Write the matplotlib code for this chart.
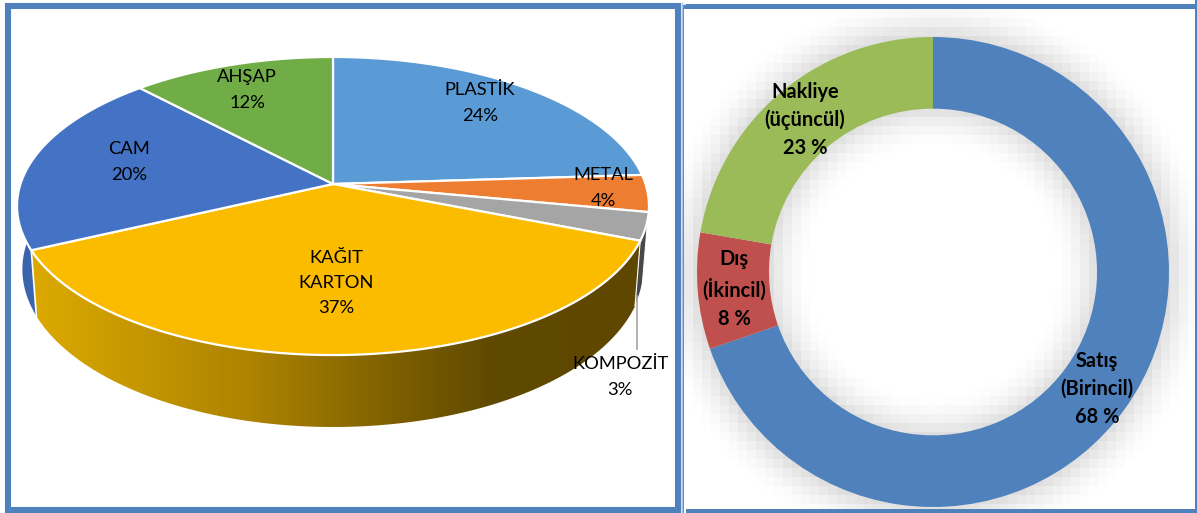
import numpy as np
import matplotlib
matplotlib.use("Agg")
import matplotlib.pyplot as plt
from matplotlib.patches import Rectangle, Polygon
from matplotlib.colors import LinearSegmentedColormap

plt.rcParams['font.family'] = ['Lato', 'DejaVu Sans']

# sol: malzeme dagilimi
malzeme = ["PLASTİK", "METAL", "KOMPOZİT", "KAĞIT\nKARTON", "CAM", "AHŞAP"]
malzeme_pay = [24, 4, 3, 37, 20, 12]
malzeme_renk = ["#5b9bd5", "#ed7d31", "#a5a5a5", "#fbbc00", "#4472c4", "#70ad47"]

# sag: ambalaj turleri
ambalaj = ["Satış\n(Birincil)", "Dış\n(İkincil)", "Nakliye\n(üçüncül)"]
ambalaj_etiket = ["68 %", "8 %", "23 %"]
ambalaj_pay = [69.7, 8.0, 22.3]  # dilim acilari
ambalaj_renk = ["#4f81bd", "#c0504d", "#9bbb59"]

W, H = 1197, 513
CERCEVE = "#4f81bd"

fig = plt.figure(figsize=(W/100, H/100), dpi=100, facecolor="white")

def eksen(x0, y0, x1, y1):
    return fig.add_axes([x0/W, 1 - y1/H, (x1-x0)/W, (y1-y0)/H])

ax = fig.add_axes([0, 0, 1, 1])
ax.set_xlim(0, W)
ax.set_ylim(H, 0)
ax.axis("off")

# cerceveler
ax.add_patch(Rectangle((8, 6), 670, 504, fc="white", ec=CERCEVE, lw=4.4, zorder=0))
ax.add_patch(Rectangle((684, 6.5), 511.5, 504.5, fc="white", ec=CERCEVE, lw=3.8, zorder=0))
ax.plot([681.5, 681.5], [3, 513], color="#a9c4e6", lw=1, zorder=1)

# perspektif pasta: daire -> ekran
def ust_yuz(a):
    u, v = np.sin(a), np.cos(a)
    d = 1 + 0.1477*v
    return 333 + 312.5*u/d, 184 - 145.8*v/d

def alt_yuz(a):
    x, y = ust_yuz(a)
    return 333 + 0.983*(x - 333), 246 + 1.058*(y - 184)

def yay(p0, p1):
    return np.radians(np.linspace(p0, p1, 200)) * 3.6

sinir = np.concatenate([[0], np.cumsum(malzeme_pay)])

def duvar(p0, p1):
    a = yay(p0, p1)
    xu, yu = ust_yuz(a)
    xa, ya = alt_yuz(a)
    return np.column_stack([np.r_[xu, xa[::-1]], np.r_[yu, ya[::-1]]])

# kagit duvari: gradyan
renkler = LinearSegmentedColormap.from_list("kahve", [(0, "#dcaa00"), (0.36, "#ad8300"), (0.6, "#7d5f00"), (0.76, "#604900"), (1, "#5f4700")])
p = Polygon(duvar(sinir[3], sinir[4]), closed=True, fc="none", ec="none", zorder=2)
ax.add_patch(p)
im = ax.imshow(np.linspace(0, 1, 256)[None, :], extent=(30, 640, 440, 230), cmap=renkler, aspect="auto", zorder=2)
im.set_clip_path(p)
ax.set_xlim(0, W)
ax.set_ylim(H, 0)

# cam duvari
mavi = LinearSegmentedColormap.from_list("mavi", ["#3560a6", "#4069b3"])
p2 = Polygon(duvar(sinir[4], sinir[4] + 8), closed=True, fc="none", ec="none", zorder=2)
ax.add_patch(p2)
im2 = ax.imshow(np.linspace(0, 1, 32)[None, :], extent=(15, 40, 330, 220), cmap=mavi, aspect="auto", zorder=2)
im2.set_clip_path(p2)
ax.set_xlim(0, W)
ax.set_ylim(H, 0)
ax.plot(*np.array([alt_yuz(yay(sinir[4], sinir[4]+0.01)[0]), ust_yuz(yay(sinir[4], sinir[4]+0.01)[0])]).T,
        color="white", lw=1.2, zorder=3)

# kompozit duvari
ax.add_patch(Polygon(duvar(sinir[2] + 0.7, sinir[3]), closed=True, fc="#484848", ec="white", lw=0.8, zorder=2))

# ust yuz dilimleri
for i in range(len(malzeme_pay)):
    x, y = ust_yuz(yay(sinir[i], sinir[i+1]))
    ax.fill(np.r_[333, x], np.r_[184, y], color=malzeme_renk[i], ec="white", lw=1.6, zorder=4)

# kompozit kilavuz cizgisi
ax.plot([637, 637], [296, 349], color="#a6a6a6", lw=1.2, zorder=3)

# sol etiketler
etiket_yer = [(480, 103), (603, 188), (620, 377), (336, 283), (129, 162), (247, 90)]
for ad, pay, (ex, ey) in zip(malzeme, malzeme_pay, etiket_yer):
    ax.text(ex, ey, f"{ad}\n{pay}%", ha="center", va="center", fontsize=13.2, color="black",
            linespacing=1.72, zorder=6)

# halka golgesi (kaba bloklu)
bx = eksen(660, 0, 1197, 513)
bx.set_xlim(660, 1197)
bx.set_ylim(513, 0)
bx.axis("off")
bx.patch.set_alpha(0)
adim = 9
gx, gy = np.meshgrid(np.arange(684, 1197, adim) + adim/2, np.arange(9, 510, adim) + adim/2)
r = np.hypot(gx - 933, gy - 272)
dis = np.clip((r - 236)/46, 0, 1)
ic = np.clip((164 - r)/46, 0, 1)
golge = np.where(r > 200, (1 - dis)**2, (1 - ic)**2) * 0.13
bx.imshow(1 - golge, extent=(684, 684 + adim*gx.shape[1], 9 + adim*gx.shape[0], 9), cmap="gray",
          vmin=0, vmax=1, aspect="auto", interpolation="nearest")
bx.set_xlim(660, 1197)
bx.set_ylim(513, 0)
bx.add_patch(Rectangle((1195, 0), 2, 513, fc=CERCEVE, ec="none", zorder=5))
bx.add_patch(Rectangle((686, 509), 511, 4, fc=CERCEVE, ec="none", zorder=5))
bx.add_patch(Rectangle((686, 4), 511, 5, fc=CERCEVE, ec="none", zorder=5))

# halka
cx = eksen(697, 37, 1169, 507)
cx.pie(ambalaj_pay, colors=ambalaj_renk, startangle=90, counterclock=False, radius=1,
       wedgeprops=dict(width=0.305))
cx.set_aspect("auto")
cx.set_xlim(-1, 1)
cx.set_ylim(-1, 1)
cx.patch.set_alpha(0)

# sag etiketler
tx = fig.add_axes([0, 0, 1, 1])
tx.set_xlim(0, W)
tx.set_ylim(H, 0)
tx.axis("off")
halka_yer = [(1097, 389), (734, 289), (805, 120)]
for ad, et, (ex, ey) in zip(ambalaj, ambalaj_etiket, halka_yer):
    tx.text(ex, ey, f"{ad}\n{et}", ha="center", va="center", fontsize=14.4, fontweight="bold",
            color="black", linespacing=1.5)

fig.savefig("out.png", dpi=100)
